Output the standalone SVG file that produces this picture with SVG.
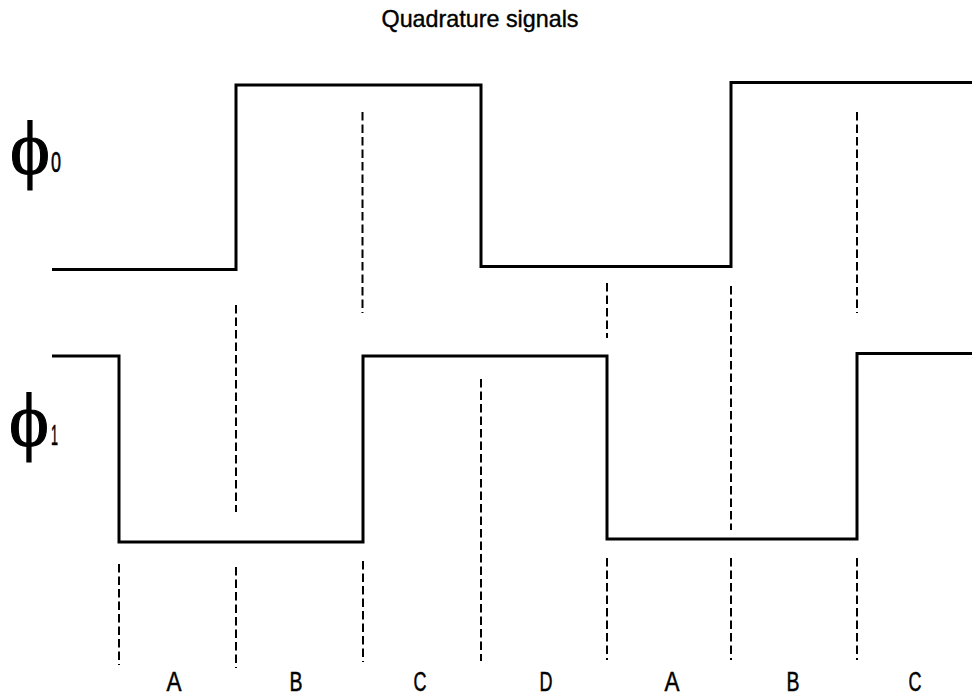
<svg xmlns="http://www.w3.org/2000/svg" width="972" height="697" viewBox="0 0 972 697">
<style>
.sig{fill:none;stroke:#000;stroke-width:3;stroke-linejoin:miter}
.dash{fill:none;stroke:#000;stroke-width:2;stroke-dasharray:8.5 4}
.lbl{font-family:"Liberation Sans",Arial,sans-serif;font-size:27px;fill:#000;stroke:#000;stroke-width:0.5;text-anchor:middle}
.phi{font-family:"Liberation Serif","DejaVu Serif","Times New Roman",serif;font-size:76px;fill:#000;stroke:#000;stroke-width:1.2}
.sub{font-family:"Liberation Sans",Arial,sans-serif;font-size:29px;fill:#000;stroke:#000;stroke-width:0.6}
</style>
<rect width="972" height="697" fill="#fff"/>
<g id="title"><text x="480" y="27" font-family="Liberation Sans, Arial, sans-serif" font-size="24" text-anchor="middle" textLength="197" lengthAdjust="spacingAndGlyphs" stroke="#000" stroke-width="0.4">Quadrature signals</text></g>
<g id="phi0"><text class="phi" x="10" y="174">ϕ</text><text class="sub" x="51" y="172" textLength="10" lengthAdjust="spacingAndGlyphs">0</text></g>
<g id="phi1"><text class="phi" x="9" y="446" font-size="64">ϕ</text><text class="sub" x="51" y="445" font-size="24" textLength="7" lengthAdjust="spacingAndGlyphs">1</text></g>
<g id="connectors">
<polyline id="signal0" class="sig" points="52,269.5 236,269.5 236,85 481,85 481,266.5 731,266.5 731,82.5 972,82.5"/>
<polyline id="signal1" class="sig" points="52,356 119,356 119,542 363,542 363,356 607,356 607,539 857,539 857,353.5 972,353.5"/>
<line class="dash" x1="362.5" y1="112" x2="362.5" y2="313"/>
<line class="dash" x1="857" y1="112" x2="857" y2="313"/>
<line class="dash" x1="236" y1="305" x2="236" y2="512"/>
<line class="dash" x1="607" y1="283" x2="607" y2="338"/>
<line class="dash" x1="731" y1="286" x2="731" y2="530"/>
<line class="dash" x1="481" y1="379" x2="481" y2="661"/>
<line class="dash" x1="119" y1="564" x2="119" y2="665"/>
<line class="dash" x1="236" y1="567" x2="236" y2="668"/>
<line class="dash" x1="363" y1="561" x2="363" y2="662"/>
<line class="dash" x1="607" y1="558" x2="607" y2="660"/>
<line class="dash" x1="731" y1="558" x2="731" y2="660"/>
<line class="dash" x1="857" y1="558" x2="857" y2="660"/>
</g>
<g id="labels">
<text class="lbl" x="174" y="691" textLength="15" lengthAdjust="spacingAndGlyphs">A</text>
<text class="lbl" x="296" y="691" textLength="13" lengthAdjust="spacingAndGlyphs">B</text>
<text class="lbl" x="420" y="691" textLength="13" lengthAdjust="spacingAndGlyphs">C</text>
<text class="lbl" x="546" y="691" textLength="13" lengthAdjust="spacingAndGlyphs">D</text>
<text class="lbl" x="672" y="691" textLength="15" lengthAdjust="spacingAndGlyphs">A</text>
<text class="lbl" x="793" y="691" textLength="13" lengthAdjust="spacingAndGlyphs">B</text>
<text class="lbl" x="915" y="691" textLength="13" lengthAdjust="spacingAndGlyphs">C</text>
</g>
</svg>
